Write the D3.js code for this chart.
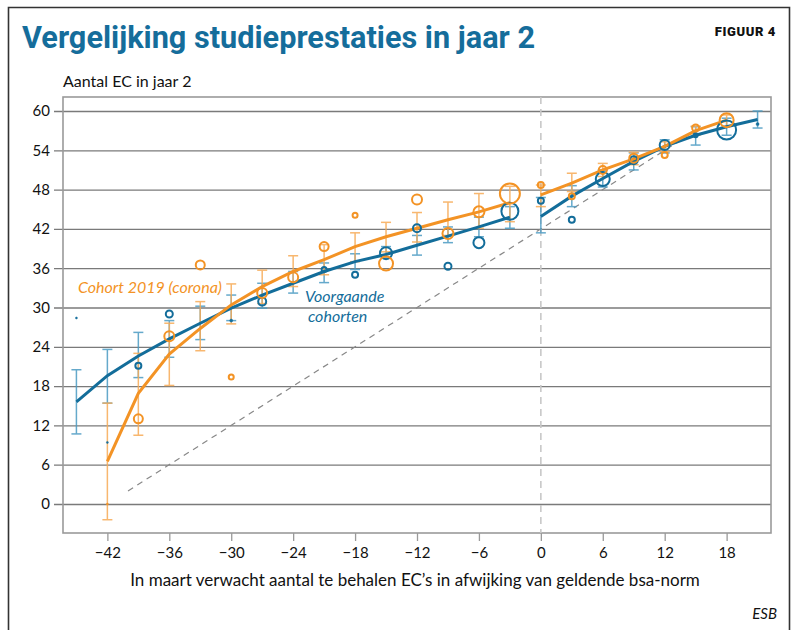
<!DOCTYPE html>
<html>
<head>
<meta charset="utf-8">
<script src="https://cdn.jsdelivr.net/npm/d3@7"></script>
<style>
  body { margin: 0; background: #fff; }
  svg { display: block; }
  text { font-family: Lato, "Open Sans", sans-serif; }
</style>
</head>
<body>
<div class="graphContainer"></div>
<script>
// size of the page
const w = 793;
const h = 630;

// colours
const blue = "#136d9a";
const orange = "#f39325";
const blueBar = "#4b9bc3";
const orangeBar = "#f7ab56";

// x positions (EC deviation from bsa norm)
const xVals = [-45, -42, -39, -36, -33, -30, -27, -24, -21, -18, -15, -12, -9, -6, -3,
               0, 3, 6, 9, 12, 15, 18, 21];

// fitted line, previous cohorts (null = no value)
const blueFit = [15.6, 19.6, 22.6, 25.2, 27.6, 29.9, 31.9, 33.7, 35.5, 37.0, 38.1, 39.5, 40.9, 42.3, 43.8,
                 43.9, 47.0, 49.7, 52.3, 54.6, 56.3, 57.6, 58.7];
const blueLo  = [10.7, 15.4, 19.3, 22.4, 25.1, 28.0, 29.9, 32.2, 33.8, 35.8, 37.5, 38.0, 39.9, 40.8, 42.1,
                 41.4, 45.4, 48.4, 51.0, 53.6, 54.8, 56.3, 57.4];
const blueHi  = [20.5, 23.6, 26.2, 28.0, 30.2, 31.9, 33.7, 35.5, 36.8, 38.2, 39.3, 41.0, 42.3, 43.8, 45.4,
                 46.8, 48.6, 51.0, 53.6, 55.6, 57.6, 58.9, 60.0];
const bluePts = [28.4, 9.4, 21.1, 29.0, null, 28.0, 30.9, null, 35.8, 35.0, 38.3, 42.1, 36.3, 39.9, 44.7,
                 46.3, 43.4, 49.6, 52.5, 54.8, 56.3, 57.1, 58.0];
const blueSize = [1, 1, 3, 3.5, 0, 1.5, 4, 0, 2.5, 3, 6, 4, 3.5, 5.5, 8.5,
                  3, 3, 7, 4, 5, 2, 9.5, 1.5];

// fitted line, cohort 2019 (corona)
const orangeFit = [null, 6.5, 16.9, 22.9, 26.8, 30.4, 33.2, 35.5, 37.3, 39.3, 40.8, 42.1, 43.4, 44.6, 46.0,
                   47.2, 49.0, 51.0, 52.7, 54.6, 57.0, 58.6, null];
const orangeLo  = [null, -2.4, 10.5, 18.1, 23.4, 27.5, 30.6, 33.2, 35.0, 37.0, 38.5, 40.0, 41.0, 42.1, 43.1,
                   45.4, 47.7, 50.0, 51.8, 53.8, 56.3, 57.7, null];
const orangeHi  = [null, 15.4, 23.0, 27.6, 30.9, 33.6, 35.7, 37.9, 39.6, 41.4, 43.0, 44.5, 46.1, 47.4, 48.5,
                   48.7, 50.5, 52.0, 53.7, 55.3, 57.7, 59.4, null];
const orangePts = [null, 0, 13.0, 25.6, 36.5, 19.4, 32.2, 34.6, 39.3, 44.1, 36.7, 46.5, 41.3, 44.6, 47.4,
                   48.7, 47.0, 51.0, 52.8, 53.3, 57.4, 58.6, null];
const orangeSize = [0, 1, 4.5, 5, 4.5, 2.5, 5, 5, 4.5, 2.5, 7, 5, 5.5, 5.5, 10,
                    3, 3, 4, 4.5, 3, 3.5, 7, 0];

// diagonal reference line (EC in year 2 = 42 + deviation)
const diagX = [-40, 15];
const diagY = [2, 57];

const xTicks = [-42, -36, -30, -24, -18, -12, -6, 0, 6, 12, 18];
const yTicks = [0, 6, 12, 18, 24, 30, 36, 42, 48, 54, 60];

const svg = d3.select(".graphContainer").append("svg")
  .attr("width", w)
  .attr("height", h);

// outer frame of the figure
svg.append("path")
  .attr("d", "M8.5,630 V7.5 H789.5 V630")
  .attr("fill", "none")
  .attr("stroke", "#333")
  .attr("stroke-width", 1.6);

// title
svg.append("text")
  .attr("x", 22).attr("y", 48)
  .attr("textLength", 513)
  .attr("lengthAdjust", "spacingAndGlyphs")
  .style("font-family", "Roboto, sans-serif")
  .style("font-weight", 700)
  .style("font-size", "32px")
  .style("fill", "#156d9b")
  .text("Vergelijking studieprestaties in jaar 2");

svg.append("text")
  .attr("x", 776).attr("y", 36)
  .attr("text-anchor", "end")
  .style("font-family", "Roboto, sans-serif")
  .style("font-weight", 900)
  .style("font-size", "13px")
  .style("letter-spacing", "0.6px")
  .style("fill", "#111")
  .text("FIGUUR 4");

svg.append("text")
  .attr("x", 63).attr("y", 87)
  .style("font-size", "16px")
  .style("fill", "#111")
  .text("Aantal EC in jaar 2");

// scales
const xScale = d3.scaleLinear().domain([-46.3, 22.3]).range([63, 771]);
const yScale = d3.scaleLinear().domain([0, 60]).range([504, 111]);

const pLeft = 63, pRight = 771, pTop = 97, pBottom = 533;

// gridlines + y labels
const yAxis = d3.axisLeft(yScale)
  .tickValues(yTicks)
  .tickSize(pRight - 54)
  .tickPadding(4)
  .tickFormat(d3.format("d"));

const gy = svg.append("g")
  .attr("transform", "translate(" + pRight + ",0)")
  .call(yAxis);
gy.select(".domain").remove();
gy.selectAll("line").attr("stroke", "#7a7a7a").attr("stroke-width", 1.3);
gy.selectAll("text")
  .style("font-family", "Lato, sans-serif")
  .style("font-size", "15px")
  .style("fill", "#111");

// plot frame
svg.append("rect")
  .attr("x", pLeft).attr("y", pTop)
  .attr("width", pRight - pLeft).attr("height", pBottom - pTop)
  .attr("fill", "none")
  .attr("stroke", "#9a9a9a")
  .attr("stroke-width", 1.6);

// x axis
const xAxis = d3.axisBottom(xScale)
  .tickValues(xTicks)
  .tickSize(8)
  .tickPadding(6);

const gx = svg.append("g")
  .attr("transform", "translate(0," + pBottom + ")")
  .call(xAxis);
gx.select(".domain").remove();
gx.selectAll("line").attr("stroke", "#9a9a9a").attr("stroke-width", 1.3);
gx.selectAll("text")
  .style("font-family", "Lato, sans-serif")
  .style("font-size", "15px")
  .style("fill", "#111");

svg.append("text")
  .attr("x", 415).attr("y", 586)
  .attr("text-anchor", "middle")
  .style("font-size", "17px")
  .style("fill", "#111")
  .text("In maart verwacht aantal te behalen EC’s in afwijking van geldende bsa-norm");

svg.append("text")
  .attr("x", 777).attr("y", 619)
  .attr("text-anchor", "end")
  .style("font-size", "15px")
  .style("font-style", "italic")
  .style("fill", "#111")
  .text("ESB");

// vertical dashed line at 0
svg.append("line")
  .attr("x1", xScale(0)).attr("x2", xScale(0))
  .attr("y1", pTop).attr("y2", pBottom)
  .attr("stroke", "#c8c8c8")
  .attr("stroke-width", 1.6)
  .attr("stroke-dasharray", "7,5");

// diagonal dashed line
svg.append("line")
  .attr("x1", xScale(diagX[0])).attr("y1", yScale(diagY[0]))
  .attr("x2", xScale(diagX[1])).attr("y2", yScale(diagY[1]))
  .attr("stroke", "#888")
  .attr("stroke-width", 1.2)
  .attr("stroke-dasharray", "6,5");

// build rows
const rows = xVals.map((x, i) => ({
  x: x,
  bFit: blueFit[i], bLo: blueLo[i], bHi: blueHi[i], bPt: bluePts[i], bR: blueSize[i],
  oFit: orangeFit[i], oLo: orangeLo[i], oHi: orangeHi[i], oPt: orangePts[i], oR: orangeSize[i]
}));

// error bars
function drawBars(key, lo, hi, color) {
  const data = rows.filter(d => d[lo] !== null);
  const g = svg.append("g").attr("class", key)
    .attr("stroke", color)
    .attr("stroke-width", 1.5)
    .attr("opacity", 0.85);
  g.selectAll(".v").data(data).enter().append("line")
    .attr("x1", d => xScale(d.x)).attr("x2", d => xScale(d.x))
    .attr("y1", d => yScale(d[lo])).attr("y2", d => yScale(d[hi]));
  g.selectAll(".lo").data(data).enter().append("line")
    .attr("x1", d => xScale(d.x) - 5).attr("x2", d => xScale(d.x) + 5)
    .attr("y1", d => yScale(d[lo])).attr("y2", d => yScale(d[lo]));
  g.selectAll(".hi").data(data).enter().append("line")
    .attr("x1", d => xScale(d.x) - 5).attr("x2", d => xScale(d.x) + 5)
    .attr("y1", d => yScale(d[hi])).attr("y2", d => yScale(d[hi]));
}
drawBars("blueBars", "bLo", "bHi", blueBar);
drawBars("orangeBars", "oLo", "oHi", orangeBar);

// fitted lines, split at 0
const line = (key) => d3.line()
  .defined(d => d[key] !== null)
  .x(d => xScale(d.x))
  .y(d => yScale(d[key]));

[rows.filter(d => d.x < 0), rows.filter(d => d.x >= 0)].forEach(part => {
  svg.append("path")
    .datum(part)
    .attr("d", line("bFit"))
    .attr("fill", "none")
    .attr("stroke", blue)
    .attr("stroke-width", 3);
  svg.append("path")
    .datum(part)
    .attr("d", line("oFit"))
    .attr("fill", "none")
    .attr("stroke", orange)
    .attr("stroke-width", 3);
});

// observed means, circle size = group size
function drawPts(key, rKey, color) {
  svg.append("g").selectAll("circle")
    .data(rows.filter(d => d[key] !== null && d[rKey] > 0))
    .enter().append("circle")
    .attr("cx", d => xScale(d.x))
    .attr("cy", d => yScale(d[key]))
    .attr("r", d => d[rKey])
    .attr("fill", d => d[rKey] <= 1.5 ? color : "none")
    .attr("stroke", color)
    .attr("stroke-width", d => d[rKey] <= 1.5 ? 0.5 : 2);
}
drawPts("bPt", "bR", blue);
drawPts("oPt", "oR", orange);

// series labels
svg.append("text")
  .attr("x", 78).attr("y", 293)
  .style("font-size", "16px")
  .style("font-style", "italic")
  .style("fill", orange)
  .text("Cohort 2019 (corona)");

svg.append("text")
  .attr("x", 305).attr("y", 302)
  .style("font-size", "16px")
  .style("font-style", "italic")
  .style("fill", blue)
  .text("Voorgaande");

svg.append("text")
  .attr("x", 308).attr("y", 322)
  .style("font-size", "16px")
  .style("font-style", "italic")
  .style("fill", blue)
  .text("cohorten");
</script>
</body>
</html>
